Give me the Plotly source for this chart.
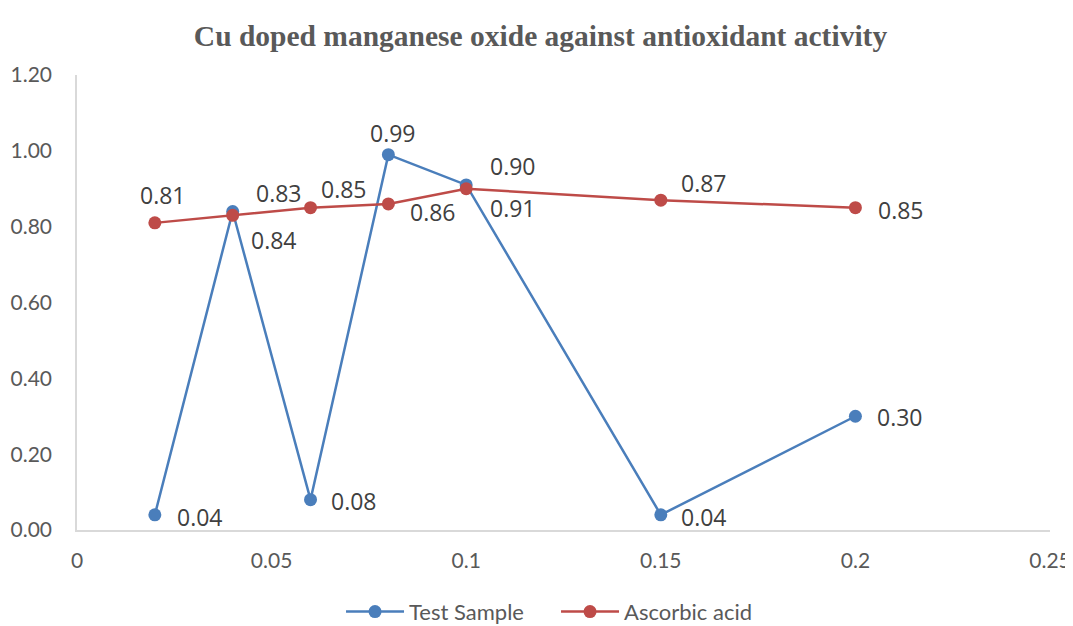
import plotly.graph_objects as go

concentration = [0.02, 0.04, 0.06, 0.08, 0.1, 0.15, 0.2]
test_sample = [0.04, 0.84, 0.08, 0.99, 0.91, 0.04, 0.30]
ascorbic_acid = [0.81, 0.83, 0.85, 0.86, 0.90, 0.87, 0.85]
x_ticks = [0, 0.05, 0.1, 0.15, 0.2, 0.25]
x_tick_text = ["0", "0.05", "0.1", "0.15", "0.2", "0.25"]
y_ticks = [0, 0.2, 0.4, 0.6, 0.8, 1.0, 1.2]

# label offsets in screen pixels (left edge of label relative to point, vertical shift up)
test_dx = [20, 16, 18, -20, 22, 18, 20]
test_dy = [-2, -28, -1, 22, -23, -2, -1]
asc_dx = [-17, 21, 8, 20, 22, 18, 21]
asc_dy = [28, 22, 19, -8, 23, 17, -2]

BLUE = "#4A7EBB"
RED = "#BE4B48"

label_font = dict(family="Open Sans, Noto Sans, sans-serif", size=23, color="#404040")
tick_font = dict(family="Lato, Carlito, Liberation Sans, sans-serif", size=21, color="#595959")

fig = go.Figure()
fig.add_trace(go.Scatter(
    x=concentration, y=test_sample, mode="lines+markers", name="Test Sample",
    line=dict(color=BLUE, width=2.5), marker=dict(size=13, color=BLUE),
))
fig.add_trace(go.Scatter(
    x=concentration, y=ascorbic_acid, mode="lines+markers", name="Ascorbic acid",
    line=dict(color=RED, width=2.5), marker=dict(size=13, color=RED),
))

for xs, ys, dxs, dys in [(concentration, test_sample, test_dx, test_dy),
                         (concentration, ascorbic_acid, asc_dx, asc_dy)]:
    for x, y, dx, dy in zip(xs, ys, dxs, dys):
        fig.add_annotation(x=x, y=y, text=f"{y:.2f}", showarrow=False,
                           xanchor="left", yanchor="middle", xshift=dx, yshift=dy,
                           font=label_font)

# page body has an 8px margin, so the figure is sized to fit the window
fig.update_layout(
    width=1065, height=618,
    paper_bgcolor="white", plot_bgcolor="white",
    margin=dict(l=69, r=23, t=67, b=96),
    title=dict(text="<b>Cu doped manganese oxide against antioxidant activity</b>",
               x=0.5, xanchor="center", y=0.955, yanchor="middle",
               font=dict(family="Liberation Serif, DejaVu Serif, serif", size=29.5, color="#595959")),
    xaxis=dict(range=[0, 0.25], tickvals=x_ticks, ticktext=x_tick_text, automargin=False,
               showgrid=False, zeroline=False, showline=True, linecolor="#D9D9D9",
               linewidth=1.5, ticks="", tickfont=tick_font, ticklabelstandoff=11),
    yaxis=dict(range=[0, 1.2], tickvals=y_ticks, tickformat=".2f", automargin=False,
               showgrid=False, zeroline=False, showline=True, linecolor="#D9D9D9",
               linewidth=1.5, ticks="", tickfont=tick_font, ticklabelstandoff=19),
    legend=dict(orientation="h", x=0.3127, xanchor="left", xref="container",
                y=0.023, yanchor="middle", yref="container",
                itemwidth=58, entrywidth=142, entrywidthmode="pixels",
                font=dict(family="Lato, Carlito, Liberation Sans, sans-serif",
                          size=22, color="#595959")),
    showlegend=True,
)

fig.write_html("out.html")
